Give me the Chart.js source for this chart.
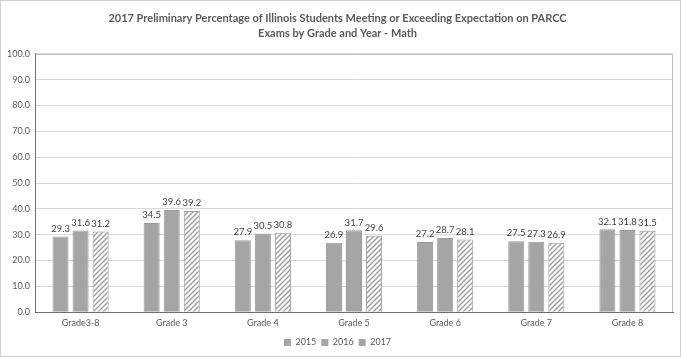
<!DOCTYPE html>
<html>
<head>
<meta charset="utf-8">
<script src="https://cdn.jsdelivr.net/npm/chart.js@4/dist/chart.umd.min.js"></script>
<style>
  html, body { margin: 0; padding: 0; background: #fff; }
  #wrap { width: 681px; height: 357px; position: relative; }
</style>
</head>
<body>
<div id="wrap"><canvas id="c" width="681" height="357"></canvas></div>
<script>
const categories = ["Grade3-8", "Grade 3", "Grade 4", "Grade 5", "Grade 6", "Grade 7", "Grade 8"];
const seriesNames = ["2015", "2016", "2017"];
const values2015 = [29.3, 34.5, 27.9, 26.9, 27.2, 27.5, 32.1];
const values2016 = [31.6, 39.6, 30.5, 31.7, 28.7, 27.3, 31.8];
const values2017 = [31.2, 39.2, 30.8, 29.6, 28.1, 26.9, 31.5];
const titleLines = ["2017 Preliminary Percentage of Illinois Students Meeting or Exceeding Expectation on PARCC", "Exams by Grade and Year - Math"];

const GRAY = '#a5a5a5';
const TEXT = '#595959';
const FONT = 'Lato';

function hatch() {
  const s = 5;
  const p = document.createElement('canvas');
  p.width = s; p.height = s;
  const g = p.getContext('2d');
  g.fillStyle = '#fff';
  g.fillRect(0, 0, s, s);
  g.strokeStyle = '#9c9c9c';
  g.lineWidth = 1.4;
  g.beginPath();
  g.moveTo(0, s); g.lineTo(s, 0);
  g.moveTo(-s/2, s/2); g.lineTo(s/2, -s/2);
  g.moveTo(s/2, s*1.5); g.lineTo(s*1.5, s/2);
  g.stroke();
  return g.createPattern(p, 'repeat');
}

const frame = {
  id: 'frame',
  beforeDraw(chart) {
    const ctx = chart.ctx;
    ctx.save();
    ctx.fillStyle = '#fff';
    ctx.fillRect(0, 0, chart.width, chart.height);
    ctx.strokeStyle = '#d0d0d0';
    ctx.lineWidth = 1;
    ctx.strokeRect(0.5, 0.5, chart.width - 1, chart.height - 1);
    ctx.restore();
  },
  afterDraw(chart) {
    const a = chart.chartArea;
    const ctx = chart.ctx;
    ctx.save();
    ctx.strokeStyle = '#bfbfbf';
    ctx.lineWidth = 1;
    ctx.beginPath();
    ctx.moveTo(Math.round(a.left) + 0.5, Math.round(a.top) + 0.5);
    ctx.lineTo(Math.round(a.right) - 0.5, Math.round(a.top) + 0.5);
    ctx.lineTo(Math.round(a.right) - 0.5, Math.round(a.bottom));
    ctx.stroke();
    ctx.restore();
  }
};

const labels = {
  id: 'labels',
  afterDatasetsDraw(chart) {
    const ctx = chart.ctx;
    ctx.save();
    ctx.font = '9.5px ' + FONT;
    ctx.fillStyle = '#404040';
    ctx.textAlign = 'center';
    ctx.textBaseline = 'bottom';
    chart.data.datasets.forEach((ds, i) => {
      chart.getDatasetMeta(i).data.forEach((bar, j) => {
        ctx.fillText(ds.data[j].toFixed(1), bar.x, bar.y - 3);
      });
    });
    ctx.restore();
  }
};

new Chart(document.getElementById('c'), {
  type: 'bar',
  data: {
    labels: categories,
    datasets: [
      { label: seriesNames[0], data: values2015, backgroundColor: GRAY, borderColor: '#9a9a9a', borderWidth: 1 },
      { label: seriesNames[1], data: values2016, backgroundColor: GRAY, borderColor: '#9a9a9a', borderWidth: 1 },
      { label: seriesNames[2], data: values2017, backgroundColor: hatch(), borderColor: '#9c9c9c', borderWidth: 1 }
    ]
  },
  options: {
    responsive: false,
    animation: false,
    devicePixelRatio: 1,
    datasets: { bar: { categoryPercentage: 0.66, barPercentage: 0.8 } },
    layout: { padding: { left: 2, right: 8, top: 4, bottom: 0 } },
    plugins: {
      title: {
        display: true,
        text: titleLines,
        color: TEXT,
        font: { family: FONT, size: 11, weight: 'bold', lineHeight: 1.45 },
        padding: { top: 6, bottom: 12 }
      },
      legend: {
        position: 'bottom',
        labels: {
          boxWidth: 7, boxHeight: 7, color: TEXT,
          font: { family: FONT, size: 9 },
          padding: 5,
          generateLabels(chart) {
            return chart.data.datasets.map((ds, i) => ({
              text: ds.label, fillStyle: GRAY, strokeStyle: GRAY, lineWidth: 0,
              fontColor: TEXT, datasetIndex: i, hidden: false
            }));
          }
        }
      },
      tooltip: { enabled: false }
    },
    scales: {
      x: {
        grid: { display: false, drawTicks: false },
        border: { color: '#6e6e6e', width: 1 },
        ticks: { color: TEXT, font: { family: FONT, size: 9 }, padding: 5 }
      },
      y: {
        min: 0, max: 100,
        grid: { color: '#d9d9d9', drawTicks: false },
        border: { color: '#6e6e6e', width: 1 },
        ticks: { stepSize: 10, color: TEXT, font: { family: FONT, size: 9 }, padding: 5,
          callback: v => v.toFixed(1) }
      }
    }
  },
  plugins: [frame, labels]
});
</script>
</body>
</html>
